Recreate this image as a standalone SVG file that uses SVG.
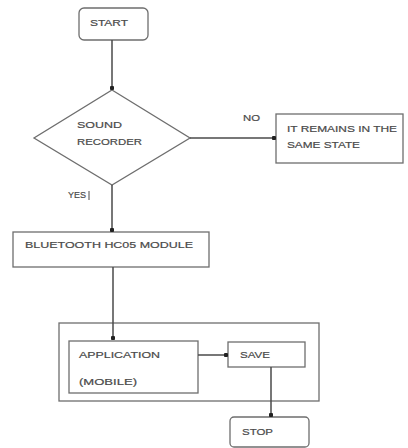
<svg xmlns="http://www.w3.org/2000/svg" width="408" height="448" viewBox="0 0 408 448">
  <style>
    .box { fill: #fff; stroke: #6e6e6e; stroke-width: 1.3; }
    .frame { fill: none; stroke: #6e6e6e; stroke-width: 1.3; }
    .edge { fill: none; stroke: #4a4a4a; stroke-width: 1.5; }
    .lbl { font-family: "Liberation Sans", Arial, sans-serif; font-size: 9.5px; fill: #4a4a4a; stroke: #4a4a4a; stroke-width: 0.2; }
  </style>
  <defs>
    <marker id="dot" viewBox="0 0 6 6" refX="3" refY="3" markerWidth="4.5" markerHeight="4.5" markerUnits="userSpaceOnUse">
      <circle cx="3" cy="3" r="3" fill="#222"/>
    </marker>
  </defs>
  <rect width="408" height="448" fill="#fff"/>

  <g id="mobile-group">
    <rect class="frame" x="59" y="323" width="260" height="78"/>
  </g>

  <g id="start">
    <rect class="box" x="79" y="8" width="69" height="32" rx="5"/>
    <text class="lbl" x="90" y="26" textLength="38" lengthAdjust="spacingAndGlyphs">START</text>
  </g>

  <g id="sound-recorder">
    <polygon class="box" points="112,90 190,138 112,185 34,138"/>
    <text class="lbl" x="77" y="128" textLength="45" lengthAdjust="spacingAndGlyphs">SOUND</text>
    <text class="lbl" x="77" y="145" textLength="65" lengthAdjust="spacingAndGlyphs">RECORDER</text>
  </g>

  <g id="same-state">
    <rect class="box" x="276" y="114" width="127" height="49"/>
    <text class="lbl" x="287" y="132" textLength="110" lengthAdjust="spacingAndGlyphs">IT REMAINS IN THE</text>
    <text class="lbl" x="287" y="148" textLength="73" lengthAdjust="spacingAndGlyphs">SAME STATE</text>
  </g>

  <g id="bluetooth">
    <rect class="box" x="13" y="232" width="196" height="35"/>
    <text class="lbl" x="25" y="248" textLength="168" lengthAdjust="spacingAndGlyphs">BLUETOOTH HC05 MODULE</text>
  </g>

  <g id="application">
    <rect class="box" x="69" y="341" width="129" height="52"/>
    <text class="lbl" x="79" y="358" textLength="81" lengthAdjust="spacingAndGlyphs">APPLICATION</text>
    <text class="lbl" x="79" y="385" textLength="58" lengthAdjust="spacingAndGlyphs">(MOBILE)</text>
  </g>

  <g id="save">
    <rect class="box" x="228" y="342" width="77" height="25"/>
    <text class="lbl" x="240" y="358" textLength="30" lengthAdjust="spacingAndGlyphs">SAVE</text>
  </g>

  <g id="stop">
    <rect class="box" x="230" y="417" width="79" height="30" rx="4"/>
    <text class="lbl" x="242" y="435" textLength="31" lengthAdjust="spacingAndGlyphs">STOP</text>
  </g>

  <g id="connectors">
    <path class="edge" d="M112 40 V88" marker-end="url(#dot)"/>
    <path class="edge" d="M190 138 H274" marker-end="url(#dot)"/>
    <path class="edge" d="M112 185 V230" marker-end="url(#dot)"/>
    <path class="edge" d="M113 267 V338" marker-end="url(#dot)"/>
    <path class="edge" d="M198 355 H226" marker-end="url(#dot)"/>
    <path class="edge" d="M271 367 V415" marker-end="url(#dot)"/>
    <text class="lbl" x="243" y="121" textLength="17" lengthAdjust="spacingAndGlyphs">NO</text>
    <text class="lbl" x="68" y="198" textLength="18" lengthAdjust="spacingAndGlyphs">YES</text>
    <line x1="89" y1="191" x2="89" y2="200" stroke="#4a4a4a" stroke-width="1"/>
  </g>
</svg>
